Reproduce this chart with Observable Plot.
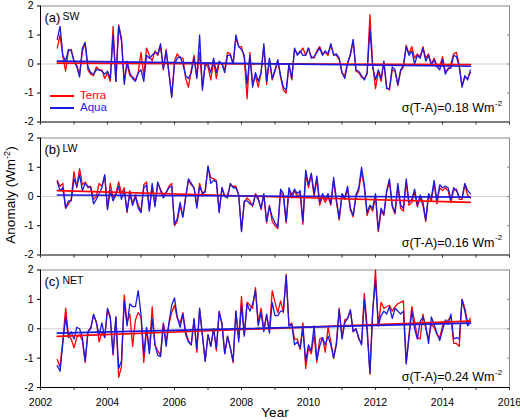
<!DOCTYPE html>
<html><head><meta charset="utf-8">
<script src="https://cdn.jsdelivr.net/npm/d3@7"></script>
<script src="https://cdn.jsdelivr.net/npm/@observablehq/plot@0.6"></script>
<style>
body{margin:0;background:#fff;font-family:"Liberation Sans",Arial,sans-serif;}
#chart{position:relative;width:520px;height:420px;overflow:hidden;background:#fff;}
.panel{position:absolute;left:0;}
.ytitle{position:absolute;left:11px;top:194.5px;transform:translate(-50%,-50%) rotate(-90deg);white-space:nowrap;font-size:13.5px;color:#000;line-height:1;}
.ytitle sup{font-size:9px;vertical-align:0;position:relative;top:-5px;}
.leg{position:absolute;font-size:11.5px;line-height:1;}
.legline{position:absolute;height:0;width:24px;}
</style></head><body><div id="chart"></div>
<script>
// monthly anomalies, July 2002 .. November 2014
const startYear = 2002.5;
const yearTicks = [2002,2003,2004,2005,2006,2007,2008,2009,2010,2011,2012,2013,2014,2015,2016];
const yearLabels = [2002,2004,2006,2008,2010,2012,2014,2016];
const yTicks = [-2,-1,0,1,2];
const seriesNames = ["Terra","Aqua"];
const panelLetters = ["(a)","(b)","(c)"];
const panelNames = ["SW","LW","NET"];
const sigmaLabels = ["σ(T-A)=0.18 Wm","σ(T-A)=0.16 Wm","σ(T-A)=0.24 Wm"];

const swAqua = [0.85,1.3,0.3,0.1,0.5,0.45,0.1,-0.1,-0.45,0.55,
0.75,-0.1,-0.3,-0.35,-0.2,-0.2,-0.25,-0.35,-0.25,-0.5,
1.0,-0.6,1.3,0.8,-0.7,0.1,-0.3,-0.5,-0.6,-0.3,
-0.2,-0.6,0.3,0.2,0.3,0.4,0.35,0.7,-0.15,0.45,
-0.3,-1.15,0.0,0.2,0.25,0.0,-0.4,-0.5,-0.3,0.2,
-0.5,1.0,-0.9,0.0,0.0,-0.3,0.2,-0.3,0.1,0.0,
-0.3,0.3,0.3,0.0,1.0,0.6,0.5,0.3,-0.7,0.3,
-0.8,-0.3,-0.6,-0.3,
0.7,-0.6,0.2,-0.5,-0.2,0.15,-0.4,-0.8,-0.9,0.0,
-0.5,0.55,0.3,0.45,0.3,0.3,0.55,0.2,0.25,0.4,
0.55,0.3,0.45,0.35,0.7,0.3,0.35,0.2,-0.3,-0.5,
0.0,0.35,0.85,-0.2,-0.25,-0.4,-0.55,-0.3,1.2,-0.1,
-0.55,-0.2,-0.5,0.1,-0.85,-0.85,-0.1,-0.2,-0.7,-0.2,
-0.05,0.6,0.3,0.45,0.0,0.3,0.2,0.55,0.1,0.3,
-0.05,0.15,-0.1,-0.2,0.15,-0.35,-0.15,-0.15,0.3,0.25,
-0.1,-0.8,-0.4,-0.55,-0.2];
const swTerra = [0.55,1.0,0.25,-0.25,0.45,0.5,0.1,-0.05,-0.35,0.45,
0.7,-0.2,-0.35,-0.4,-0.1,-0.2,-0.2,-0.5,-0.3,-0.6,
1.3,-0.6,1.35,0.9,-0.6,0.0,-0.4,-0.45,-0.55,-0.3,
0.4,-0.4,0.55,0.3,0.1,0.45,0.3,0.6,-0.2,0.5,
-0.3,-1.1,0.1,0.35,0.2,0.2,-0.5,-0.8,-0.2,0.3,
-0.45,0.4,-0.8,0.0,-0.1,-0.55,0.1,-0.5,0.05,0.0,
-0.2,0.4,0.35,0.0,0.9,0.6,0.6,0.2,-1.2,0.4,
-0.7,-0.4,-0.8,-0.3,
0.6,-0.7,0.15,-0.55,-0.25,0.1,-0.45,-0.9,-1.0,-0.05,
-0.55,0.5,0.35,0.4,0.55,0.3,0.55,0.25,0.2,0.45,
0.6,0.35,0.4,0.3,0.65,0.35,0.3,0.15,-0.3,-0.4,
0.05,0.3,0.8,-0.25,-0.3,-0.45,-0.5,-0.35,1.7,-0.05,
-0.85,-0.25,-0.6,0.05,-0.8,-0.9,-0.2,-0.25,-0.75,-0.25,
-0.1,0.65,0.35,0.6,0.2,0.35,0.25,0.6,0.2,0.35,
0.0,0.2,-0.05,-0.1,0.25,-0.25,-0.2,0.0,0.35,0.4,
-0.05,-0.75,-0.45,-0.5,-0.3];

const lwAqua = [0.5,0.2,0.3,-0.4,-0.15,-0.15,0.6,0.35,0.75,0.2,
0.45,0.35,0.3,-0.25,-0.1,0.1,0.3,0.75,-0.45,0.2,
-0.15,0.05,0.35,-0.1,0.2,-0.5,0.1,-0.3,0.0,-0.4,
-0.55,0.3,0.4,-0.5,0.45,-0.35,0.5,0.2,-0.05,0.15,
0.3,0.35,-0.95,-0.75,-0.2,-0.7,-0.05,0.6,0.45,0.3,
-0.4,0.35,0.1,0.15,1.05,0.45,0.55,0.5,-0.55,0.3,
0.0,-0.05,0.45,0.3,0.3,0.05,-1.2,-0.15,-0.15,-0.25,
-0.3,0.05,-0.1,-0.4,0.1,-0.85,-0.35,
-0.7,-0.9,-1.05,0.25,0.1,-0.85,0.3,0.05,0.25,0.1,
0.2,-0.85,0.9,0.4,0.8,0.1,0.7,-0.2,0.1,-0.1,
0.1,-0.25,0.65,-0.1,-0.75,0.1,-0.05,0.35,-0.4,-0.65,
0.05,0.3,1.0,0.4,-0.55,-0.3,-0.4,0.1,-1.15,-0.4,
-0.6,0.2,0.6,-0.3,-0.55,0.45,-0.3,-0.4,0.6,-0.2,
-0.1,0.25,-0.3,0.05,-0.2,-0.8,0.1,-0.05,0.55,-0.15,
0.4,0.3,0.35,0.3,-0.1,0.3,0.2,0.0,-0.05,0.45,
0.2,0.1];
const lwTerra = [0.55,0.35,0.45,-0.4,-0.25,-0.1,0.85,0.3,0.95,0.4,
0.5,0.3,0.35,-0.1,0.0,0.45,0.35,0.7,-0.4,0.45,
-0.05,0.1,0.5,0.1,0.3,-0.55,0.2,-0.25,0.05,-0.3,
-0.5,0.4,0.5,-0.45,0.35,-0.3,0.45,0.25,0.05,0.1,
0.35,0.45,-1.0,-0.85,-0.3,-0.7,0.0,0.55,0.4,0.3,
-0.3,0.45,0.1,0.2,1.0,0.65,0.6,0.55,-0.5,0.3,
0.0,0.05,0.4,0.35,0.35,0.05,-1.15,-0.2,-0.05,-0.15,
-0.35,0.1,-0.05,-0.45,0.05,-0.9,-0.3,
-0.85,-1.0,-1.1,0.15,0.0,-0.9,0.2,-0.05,0.2,0.0,
0.1,-0.95,0.75,0.3,0.75,0.0,0.6,-0.3,0.0,-0.2,
0.0,-0.3,0.55,-0.2,-0.8,0.05,-0.1,0.25,-0.45,-0.7,
0.0,0.2,0.85,0.3,-0.65,-0.35,-0.5,0.0,-1.2,-0.5,
-0.65,0.15,0.5,-0.35,-0.6,0.35,-0.4,-0.5,0.5,-0.3,
-0.2,0.15,-0.35,-0.05,-0.3,-0.85,0.0,-0.15,0.45,-0.25,
0.3,0.2,0.3,0.2,-0.2,0.2,0.25,-0.1,-0.1,0.4,
0.05,-0.05];

const netAqua = [-1.25,-1.45,-0.5,0.4,-0.3,-0.1,-0.35,0.05,0.0,-0.3,
-1.1,-0.1,0.0,0.5,0.2,-0.2,0.2,-0.3,0.7,0.4,
-0.85,0.4,-1.35,-1.1,0.95,0.1,0.85,0.75,0.75,1.3,
0.5,-0.85,0.05,-0.85,0.35,-0.55,-0.9,-0.95,0.15,-0.6,
0.2,0.8,1.05,0.4,0.05,0.5,-0.2,-0.45,-0.55,0.35,
-0.7,0.7,-0.25,-1.1,-0.2,-0.6,0.0,-0.65,0.6,0.15,
-0.85,-0.25,-0.65,-1.1,0.6,-0.45,0.8,-0.25,0.85,0.6,
0.85,1.3,0.1,0.55,-0.1,0.5,-0.15,
0.9,0.45,0.45,0.6,0.6,1.8,0.1,0.15,-0.55,-0.45,
-0.65,0.0,-1.1,-0.55,-0.75,0.1,-1.05,-0.6,-0.3,-0.55,
-0.25,-0.55,-1.0,-0.55,0.65,-0.35,0.2,0.35,0.65,-0.1,
0.0,-0.3,-0.55,1.0,-0.1,-1.5,0.6,1.65,0.1,0.45,
0.6,0.5,0.75,0.35,0.7,0.6,0.5,0.6,-1.2,-0.3,
0.6,0.0,-0.35,0.25,0.4,0.1,-0.5,0.4,0.15,-0.15,
-0.4,-0.05,0.3,0.15,0.5,-0.35,-0.3,-0.35,1.0,0.6,
0.1,0.2];
const netTerra = [-1.05,-1.3,-0.4,0.7,-0.2,-0.35,-0.65,-0.3,-0.2,-0.4,
-1.15,-0.1,0.05,0.45,0.25,-0.45,-0.1,-0.3,0.65,0.35,
-0.9,0.4,-1.65,-1.3,1.15,0.2,0.5,-0.6,0.3,0.55,
0.4,-1.15,0.0,-0.75,0.75,-0.55,-0.75,-0.9,0.2,-0.45,
0.15,0.55,0.8,0.35,0.2,0.55,-0.1,-0.4,-0.55,0.3,
-0.8,0.65,-0.2,-1.1,-0.2,-0.6,0.0,-0.75,0.55,0.2,
-0.85,-0.25,-0.65,-1.15,0.6,-0.35,1.1,-0.2,0.9,0.8,
0.7,1.4,0.2,0.7,0.0,0.45,-0.05,
1.3,0.9,0.55,0.95,0.55,1.85,0.1,0.2,-0.35,-0.35,
-0.7,0.2,-1.35,-0.65,-0.85,-0.2,-1.15,-0.35,-0.3,-0.8,
0.05,-0.45,-1.0,-0.45,0.7,-0.3,0.3,0.35,0.6,-0.1,
0.0,-0.35,-0.5,1.2,0.1,-1.55,0.6,2.0,0.1,0.9,
0.7,0.75,0.8,0.6,0.75,0.85,0.9,0.95,-1.15,-0.2,
0.75,0.25,-0.3,-0.35,0.5,0.0,-0.35,0.15,0.05,-0.2,
-0.3,0.1,0.2,0.3,0.4,-0.5,-0.5,-0.6,1.0,0.7,
0.2,0.35];

// linear trend end values [start, end]
const swTerraTrend = [0.03,-0.02];
const swAquaTrend = [0.1,-0.08];
const lwTerraTrend = [0.2,-0.2];
const lwAquaTrend = [0.05,-0.02];
const netTerraTrend = [-0.26,0.26];
const netAquaTrend = [-0.15,0.19];

const RED = "#ff0000", BLUE = "#1a1ae0";
const FONT = "Liberation Sans, Arial, sans-serif";

function toRows(vals){ return vals.map((v,i)=>({x: startYear + i/12, y: v})); }
function trendRows(tr, n){ return [{x: startYear, y: tr[0]}, {x: startYear + (n-1)/12, y: tr[1]}]; }

const chart = document.getElementById("chart");

function makePanel(k, terra, aqua, tTr, aTr, top, height, marginTop, marginBottom, sigmaDy, last) {
  const marks = [
    Plot.ruleY([0], {stroke: "#d0d0d0", strokeWidth: 1}),
    Plot.ruleY([2], {stroke: "#8a8a8a"}),
    Plot.ruleX([2016], {stroke: "#8a8a8a"}),
    Plot.axisY({anchor: "right", ticks: yTicks.slice(1, -1), tickSize: -3, tickFormat: () => "", stroke: "#8a8a8a", label: null}),
    Plot.line(toRows(terra), {x: "x", y: "y", stroke: RED, strokeWidth: 1.3}),
    Plot.line(toRows(aqua), {x: "x", y: "y", stroke: BLUE, strokeWidth: 1.3}),
    Plot.line(trendRows(tTr, terra.length), {x: "x", y: "y", stroke: RED, strokeWidth: 1.6}),
    Plot.line(trendRows(aTr, aqua.length), {x: "x", y: "y", stroke: BLUE, strokeWidth: 1.6}),
    Plot.ruleX([2002], {stroke: "#000"}),
    Plot.ruleY([-2], {stroke: "#000"}),
    Plot.axisY({anchor: "left", ticks: yTicks, tickSize: 3, tickPadding: 4, fontSize: 10.5, tickFormat: d => String(d), label: null}),
    Plot.axisX({ticks: yearTicks, tickSize: 3, tickFormat: () => "", label: null, stroke: "#333"}),
    Plot.text([panelLetters[k]], {frameAnchor: "top-left", dx: 4, dy: 11.5, text: d => d, fontSize: 13, textAnchor: "start", lineAnchor: "middle"}),
    Plot.text([panelNames[k]], {frameAnchor: "top-left", dx: 22, dy: 11, text: d => d, fontSize: 10.5, textAnchor: "start", lineAnchor: "middle"}),
    Plot.text([sigmaLabels[k]], {frameAnchor: "bottom-right", dx: -15, dy: sigmaDy, text: d => d, fontSize: 12.5, textAnchor: "end", lineAnchor: "middle"}),
    Plot.text(["-2"], {frameAnchor: "bottom-right", dx: -14.5, dy: sigmaDy - 5, text: d => d, fontSize: 8, textAnchor: "start", lineAnchor: "middle"})
  ];
  if (last) {
    marks.push(Plot.axisX({ticks: yearLabels, tickSize: 0, tickPadding: 11, fontSize: 10.5, tickFormat: d => String(d), label: null}));
    marks.push(Plot.text(["Year"], {frameAnchor: "bottom", dy: 25.5, text: d => d, fontSize: 13.5, lineAnchor: "middle"}));
  }
  const svg = Plot.plot({
    width: 520, height,
    marginLeft: 40, marginRight: 11, marginTop, marginBottom,
    style: {fontFamily: FONT, color: "#000", background: "transparent", overflow: "visible"},
    x: {domain: [2002, 2016], axis: null},
    y: {domain: [-2, 2], axis: null},
    marks
  });
  svg.classList.add("panel");
  svg.style.top = top + "px";
  chart.appendChild(svg);
}

makePanel(0, swTerra, swAqua, swTerraTrend, swAquaTrend, 0, 130, 5.5, 8.5, -14, false);
makePanel(1, lwTerra, lwAqua, lwTerraTrend, lwAquaTrend, 132.5, 130, 4.5, 8.5, -12.5, false);
makePanel(2, netTerra, netAqua, netTerraTrend, netAquaTrend, 265, 155, 4.5, 33, -10.5, true);

// y axis title
const yt = document.createElement("div");
yt.className = "ytitle";
yt.innerHTML = "Anomaly (Wm<sup>-2</sup>)";
chart.appendChild(yt);

// legend (panel a)
const legColors = [RED, BLUE];
const legY = [96, 108];
seriesNames.forEach((name, i) => {
  const ln = document.createElement("div");
  ln.className = "legline";
  ln.style.left = "50px"; ln.style.top = (legY[i] - 1) + "px";
  ln.style.borderTop = "2px solid " + legColors[i];
  chart.appendChild(ln);
  const tx = document.createElement("div");
  tx.className = "leg";
  tx.style.left = "80px"; tx.style.top = (legY[i] - 6.5) + "px";
  tx.style.color = legColors[i];
  tx.textContent = name;
  chart.appendChild(tx);
});
</script>
</body></html>
